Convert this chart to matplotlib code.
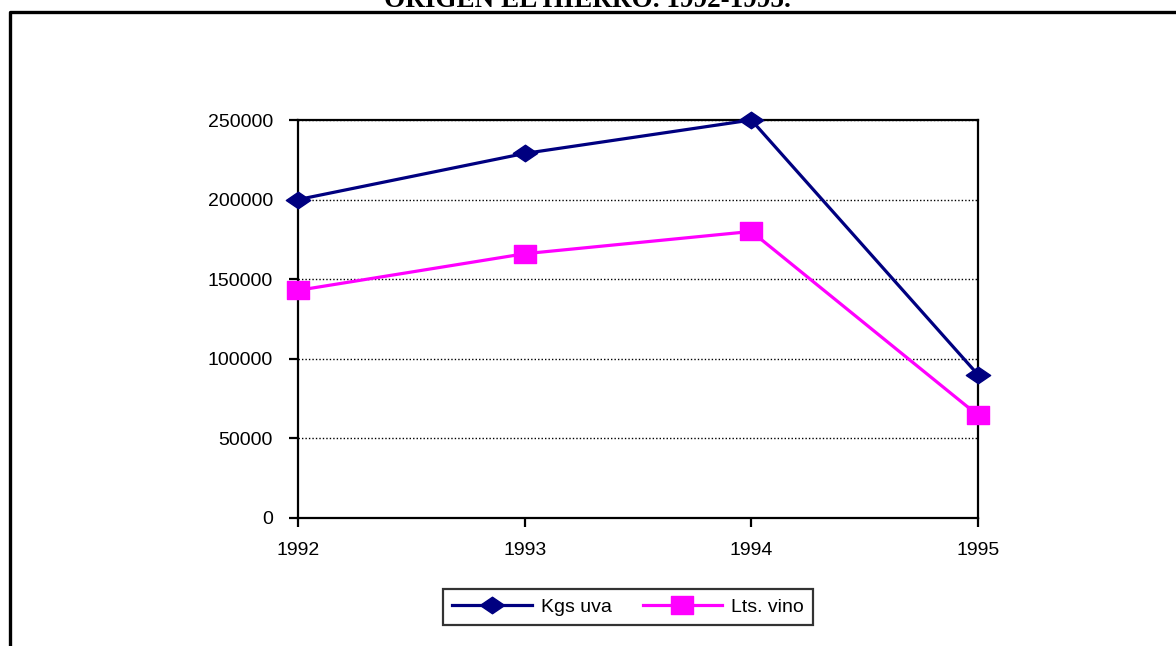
import matplotlib
matplotlib.use("Agg")
import matplotlib.pyplot as plt
from matplotlib.lines import Line2D
from matplotlib.path import Path

# Produccion por anio
years = ["1992", "1993", "1994", "1995"]
kgs_uva = [200000, 229000, 250000, 90000]
lts_vino = [143000, 166000, 180000, 64500]
y_ticks = [0, 50000, 100000, 150000, 200000, 250000]

W, H = 1176, 646
fig = plt.figure(figsize=(W / 100, H / 100), dpi=100)
fig.patch.set_facecolor("white")

# marcadores algo mas anchos que altos
rombo = Path([(-1, 0), (0, 0.68), (1, 0), (0, -0.68), (-1, 0)],
             [Path.MOVETO, Path.LINETO, Path.LINETO, Path.LINETO, Path.CLOSEPOLY])
cuadro = Path([(-1, -0.8), (1, -0.8), (1, 0.8), (-1, 0.8), (-1, -0.8)],
              [Path.MOVETO, Path.LINETO, Path.LINETO, Path.LINETO, Path.CLOSEPOLY])

ax = fig.add_axes([298 / W, 1 - 518 / H, (978 - 298) / W, (518 - 120) / H])
x = range(len(years))

ax.plot(x, kgs_uva, color="#000080", lw=2.3, marker=rombo, ms=17.5,
        mec="#000080", mfc="#000080", label="Kgs uva", zorder=3,
        clip_on=False)
ax.plot(x, lts_vino, color="#FF00FF", lw=2.3, marker=cuadro, ms=16,
        mec="#FF00FF", mfc="#FF00FF", label="Lts. vino", zorder=3,
        clip_on=False)

ax.set_xlim(0, 3)
ax.set_ylim(0, 250000)
ax.set_xticks(list(x))
ax.set_xticklabels(years)
ax.set_yticks(y_ticks)
ax.set_yticklabels([str(v) for v in y_ticks])

ax.yaxis.grid(True, color="black", linestyle=(0, (1, 1.5)), lw=1.0)
ax.set_axisbelow(True)
for s in ax.spines.values():
    s.set_linewidth(1.6)
    s.set_color("black")

ax.tick_params(axis="both", direction="out", length=6.5, width=1.6,
               labelsize=14, colors="black")
ax.tick_params(axis="y", pad=11.5)
ax.tick_params(axis="x", pad=11)
for lab in ax.get_xticklabels() + ax.get_yticklabels():
    lab.set_family("Liberation Sans")

leg = ax.legend(loc="center", bbox_to_anchor=(628 / W, 1 - 607 / H),
                bbox_transform=fig.transFigure, ncol=2, frameon=True,
                fancybox=False, shadow=False, handlelength=4.1,
                columnspacing=1.6, handletextpad=0.45, borderpad=0.45,
                prop={"family": "Liberation Sans", "size": 14})
leg.get_frame().set_edgecolor("black")
leg.get_frame().set_linewidth(1.6)

# marco exterior y titulo cortado arriba
fig.add_artist(Line2D([9.5 / W, 9.5 / W, 1.0], [0.0, 1 - 11.5 / H, 1 - 11.5 / H],
                      transform=fig.transFigure, color="black", lw=2.4))
fig.text(587 / W, 1 - 7 / H, "ORIGEN EL HIERRO. 1992-1995.", ha="center",
         va="baseline", family="Liberation Serif", weight="bold", size=19.5)

fig.savefig("out.png", dpi=100)
